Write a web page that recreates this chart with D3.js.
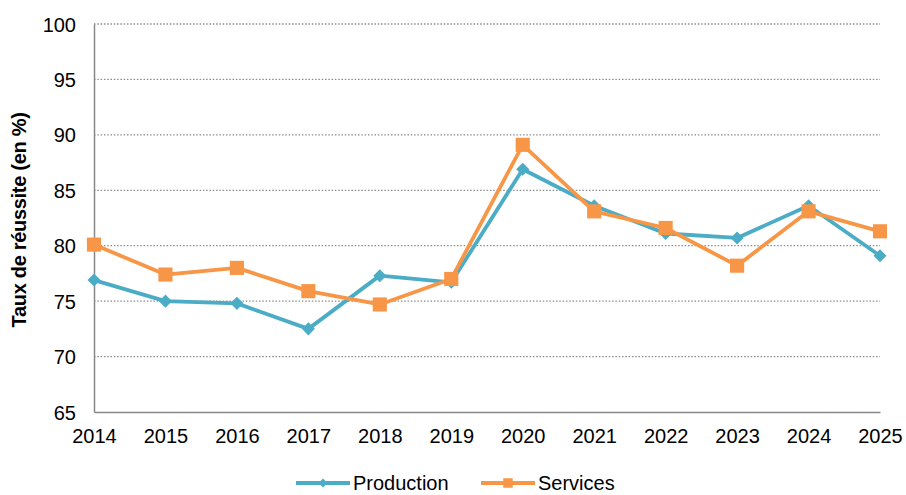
<!DOCTYPE html>
<html>
<head>
<meta charset="utf-8">
<script src="https://cdn.jsdelivr.net/npm/d3@7"></script>
<style>
  body { margin: 0; background: #fff; }
  text { font-family: "Liberation Sans", Arial, sans-serif; fill: #000; }
</style>
</head>
<body>
<div id="chart"></div>
<script>
var width = 906,
    height = 495;

var years = [2014, 2015, 2016, 2017, 2018, 2019, 2020, 2021, 2022, 2023, 2024, 2025];
var production = [76.9, 75.0, 74.8, 72.5, 77.3, 76.7, 86.9, 83.6, 81.1, 80.7, 83.6, 79.1];
var services = [80.1, 77.4, 78.0, 75.9, 74.7, 77.0, 89.1, 83.1, 81.6, 78.2, 83.1, 81.3];
var yTicks = [65, 70, 75, 80, 85, 90, 95, 100];

var margin = {left: 94, right: 26, top: 24, bottom: 83};

var x = d3.scaleLinear()
    .domain([2014, 2025])
    .range([margin.left, width - margin.right]);

var y = d3.scaleLinear()
    .domain([65, 100])
    .range([height - margin.bottom, margin.top]);

var svg = d3.select("#chart").append("svg")
    .attr("width", width)
    .attr("height", height);

// gridlines
svg.append("g")
  .selectAll("line")
  .data(yTicks.filter(function(d){ return d > 65; }))
  .enter().append("line")
    .attr("x1", x(2014))
    .attr("x2", x(2025))
    .attr("y1", function(d){ return y(d); })
    .attr("y2", function(d){ return y(d); })
    .attr("stroke", "#8c8c8c")
    .attr("stroke-width", 1.3)
    .attr("stroke-dasharray", "1.5 1.8");

// axes
var yAxis = svg.append("g")
    .attr("transform", "translate(" + x(2014) + ",0)")
    .call(d3.axisLeft(y).tickValues(yTicks).tickSize(0).tickPadding(18));

var xAxis = svg.append("g")
    .attr("transform", "translate(0," + y(65) + ")")
    .call(d3.axisBottom(x).tickValues(years).tickFormat(d3.format("d")).tickSize(0).tickPadding(17));

[yAxis, xAxis].forEach(function(a){
  a.select(".domain").attr("stroke", "#888").attr("stroke-width", 1.5);
  a.selectAll("text").attr("font-size", 20).attr("fill", "#000");
});
yAxis.selectAll("text").attr("dy", "0.35em");

svg.append("text")
    .attr("transform", "translate(26," + ((y(65) + y(100)) / 2 + 2) + ") rotate(-90)")
    .attr("text-anchor", "middle")
    .attr("font-size", 20)
    .attr("font-weight", "bold")
    .attr("letter-spacing", "-0.3")
    .text("Taux de réussite (en %)");

var series = [
  {name: "Production", values: production, color: "#4bacc6", shape: d3.symbolSquare, rotate: 45, size: 85, legendSize: 40},
  {name: "Services", values: services, color: "#f79646", shape: d3.symbolSquare, rotate: 0, size: 200, legendSize: 90}
];

var line = d3.line()
    .x(function(d, i){ return x(years[i]); })
    .y(function(d){ return y(d); });

series.forEach(function(s){
  svg.append("path")
      .attr("d", line(s.values))
      .attr("fill", "none")
      .attr("stroke", s.color)
      .attr("stroke-width", 3.8)
      .attr("stroke-linejoin", "round");

  svg.append("g")
    .selectAll("path")
    .data(s.values)
    .enter().append("path")
      .attr("d", d3.symbol().type(s.shape).size(s.size))
      .attr("transform", function(d, i){ return "translate(" + x(years[i]) + "," + y(d) + ") rotate(" + s.rotate + ")"; })
      .attr("fill", s.color);
});

// legend
var legend = svg.append("g").attr("transform", "translate(0,483)");
var legendX = [296, 481];
series.forEach(function(s, i){
  var g = legend.append("g").attr("transform", "translate(" + legendX[i] + ",0)");
  g.append("line")
      .attr("x1", 0).attr("x2", 54)
      .attr("stroke", s.color).attr("stroke-width", 3.8);
  g.append("path")
      .attr("d", d3.symbol().type(s.shape).size(s.legendSize))
      .attr("transform", "translate(27,0) rotate(" + s.rotate + ")")
      .attr("fill", s.color);
  g.append("text")
      .attr("x", 57)
      .attr("dy", "0.35em")
      .attr("font-size", 20)
      .text(s.name);
});
</script>
</body>
</html>
